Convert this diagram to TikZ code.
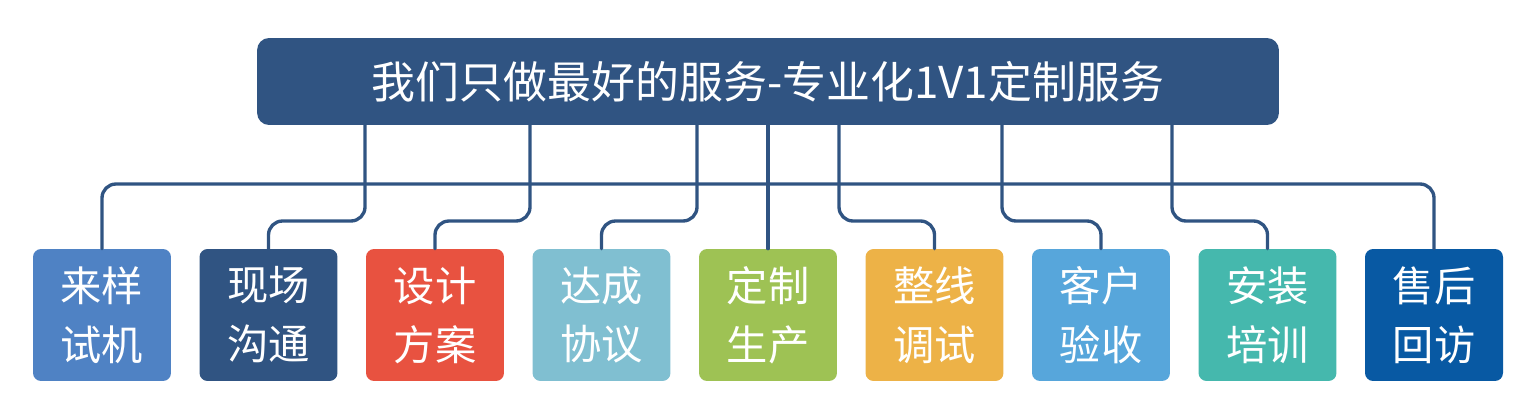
\documentclass[tikz,border=0pt]{standalone}
\usepackage{fontspec}
\usepackage{tikz}
\newfontfamily\cjk{Noto Sans CJK SC}
\definecolor{qqnavy}{rgb}{0.19,0.33,0.51}
\definecolor{boxa}{rgb}{0.31,0.51,0.77}
\definecolor{boxb}{rgb}{0.19,0.33,0.51}
\definecolor{boxc}{rgb}{0.91,0.32,0.25}
\definecolor{boxd}{rgb}{0.5,0.75,0.82}
\definecolor{boxe}{rgb}{0.62,0.76,0.33}
\definecolor{boxf}{rgb}{0.93,0.7,0.28}
\definecolor{boxg}{rgb}{0.34,0.65,0.86}
\definecolor{boxh}{rgb}{0.27,0.72,0.68}
\definecolor{boxi}{rgb}{0.03,0.35,0.64}
\begin{document}
\begin{tikzpicture}[line cap=round,line join=round,x=0.02cm,y=-0.02cm,
  link/.style={color=qqnavy,line width=1.9pt,rounded corners=0.28cm},
  stage/.style={rounded corners=0.16cm,minimum width=2.76cm,minimum height=2.64cm,inner sep=0pt,
    text=white,align=center,font=\cjk\fontsize{23.5}{33.5}\selectfont}]
      \useasboundingbox (0,0) rectangle (1539,419);
      \node[fill=qqnavy,rounded corners=0.24cm,minimum width=20.44cm,minimum height=1.74cm,
        text=white,font=\cjk\fontsize{25}{28}\selectfont] (top) at (768,81.5) {我们只做最好的服务-专业化1V1定制服务};
      \foreach \n/\c/\t in {1/boxa/{来样\\试机},2/boxb/{现场\\沟通},3/boxc/{设计\\方案},4/boxd/{达成\\协议},
        5/boxe/{定制\\生产},6/boxf/{整线\\调试},7/boxg/{客户\\验收},8/boxh/{安装\\培训},9/boxi/{售后\\回访}}
      \node[stage,fill=\c] (b\n) at ({102+166.5*(\n-1)},315) {\t};
      \coordinate (hbar) at (0,184);
      \draw[link] (b1.north) |- (hbar -| b5.north) -| (b9.north);
      \draw[link] (top.south -| b5.north) -- (b5.north);
      \foreach \n/\dx in {2/365,3/530,4/697,6/839,7/1002,8/1172}
      {
      \coordinate (d\n) at (\dx,221);
      \draw[link] (top.south -| d\n) -- (d\n) -| (b\n.north);
      }
    \end{tikzpicture}
\end{document}
